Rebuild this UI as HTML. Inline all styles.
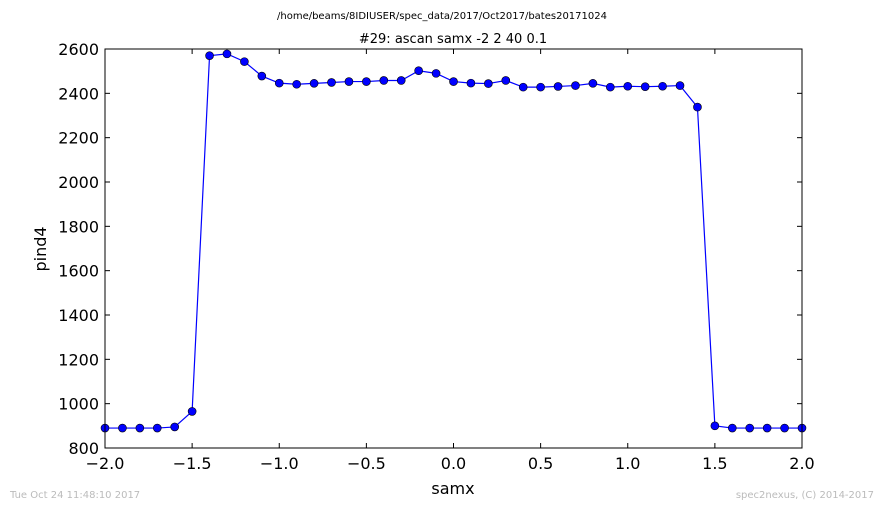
<!DOCTYPE html>
<html><head><meta charset="utf-8"><style>
body{margin:0;background:#fff;font-family:"Liberation Sans","DejaVu Sans",sans-serif;}
svg text{font-family:"DejaVu Sans","Liberation Sans",sans-serif;}
</style></head><body>
<svg id="chart" width="884" height="509" viewBox="0 0 884 509" xmlns="http://www.w3.org/2000/svg">
<rect width="884" height="509" fill="#fff"/>
<text x="442" y="19" font-size="10" text-anchor="middle">/home/beams/8IDIUSER/spec_data/2017/Oct2017/bates20171024</text>
<text x="453" y="43" font-size="13" text-anchor="middle">#29: ascan  samx -2 2  40 0.1</text>
<text x="453" y="494" font-size="16" text-anchor="middle">samx</text>
<text transform="translate(46,249) rotate(-90)" font-size="16" text-anchor="middle">pind4</text>
<text x="10" y="498" font-size="10" fill="#bbb">Tue Oct 24 11:48:10 2017</text>
<text x="874" y="498" font-size="10" fill="#bbb" text-anchor="end">spec2nexus, (C) 2014-2017</text>
<g id="axes"></g>
<g id="series"></g>
<rect x="105" y="49" width="697" height="399" fill="none" stroke="#000" stroke-width="1"/>
</svg>
<script>
const xTicks=[-2.0,-1.5,-1.0,-0.5,0.0,0.5,1.0,1.5,2.0];
const yTicks=[800,1000,1200,1400,1600,1800,2000,2200,2400,2600];
const xValues=[-2.0,-1.9,-1.8,-1.7,-1.6,-1.5,-1.4,-1.3,-1.2,-1.1,-1.0,-0.9,-0.8,-0.7,-0.6,-0.5,-0.4,-0.3,-0.2,-0.1,0.0,0.1,0.2,0.3,0.4,0.5,0.6,0.7,0.8,0.9,1.0,1.1,1.2,1.3,1.4,1.5,1.6,1.7,1.8,1.9,2.0];
const yValues=[890,890,890,890,895,965,2570,2578,2543,2478,2446,2441,2445,2449,2453,2453,2458,2458,2502,2490,2453,2446,2444,2458,2428,2428,2431,2435,2445,2428,2432,2430,2432,2435,2338,900,890,890,890,890,890];
const NS="http://www.w3.org/2000/svg";
const X0=105,X1=802,Y0=448,Y1=49;
function sx(v){return X0+(v-(-2))/4*(X1-X0);}
function sy(v){return Y0-(v-800)/1800*(Y0-Y1);}
const axes=document.getElementById('axes');
function mk(tag,attrs,parent){const e=document.createElementNS(NS,tag);for(const k in attrs)e.setAttribute(k,attrs[k]);parent.appendChild(e);return e;}
xTicks.forEach(t=>{
  const x=sx(t);
  const l1=mk('line',{x1:x,x2:x,y1:Y0,y2:Y0-5,stroke:'#000'},axes);
  
  
  const l2=mk('line',{x1:x,x2:x,y1:Y1,y2:Y1+5,stroke:'#000'},axes);
  
  
  const tx=mk('text',{x:x,y:Y0+21,'font-size':16,'text-anchor':'middle'},axes);
  tx.textContent=t.toFixed(1).replace('-','\u2212');
  
  
});
yTicks.forEach(t=>{
  const y=sy(t);
  const l1=mk('line',{x1:X0,x2:X0+5,y1:y,y2:y,stroke:'#000'},axes);
  
  
  const l2=mk('line',{x1:X1,x2:X1-5,y1:y,y2:y,stroke:'#000'},axes);
  
  
  const tx=mk('text',{x:X0-6,y:y+6,'font-size':16,'text-anchor':'end'},axes);
  tx.textContent=t;
  
  
});
const g=document.getElementById('series');
const pts=xValues.map((x,i)=>sx(x)+','+sy(yValues[i])).join(' ');
const pl=mk('polyline',{points:pts,fill:'none',stroke:'#0000ff','stroke-width':1.2},g);


xValues.forEach((x,i)=>{
  const c=mk('circle',{cx:sx(x),cy:sy(yValues[i]),r:4,fill:'#0000ff',stroke:'#000','stroke-width':0.6},g);
  
  
});
</script>
</body></html>
